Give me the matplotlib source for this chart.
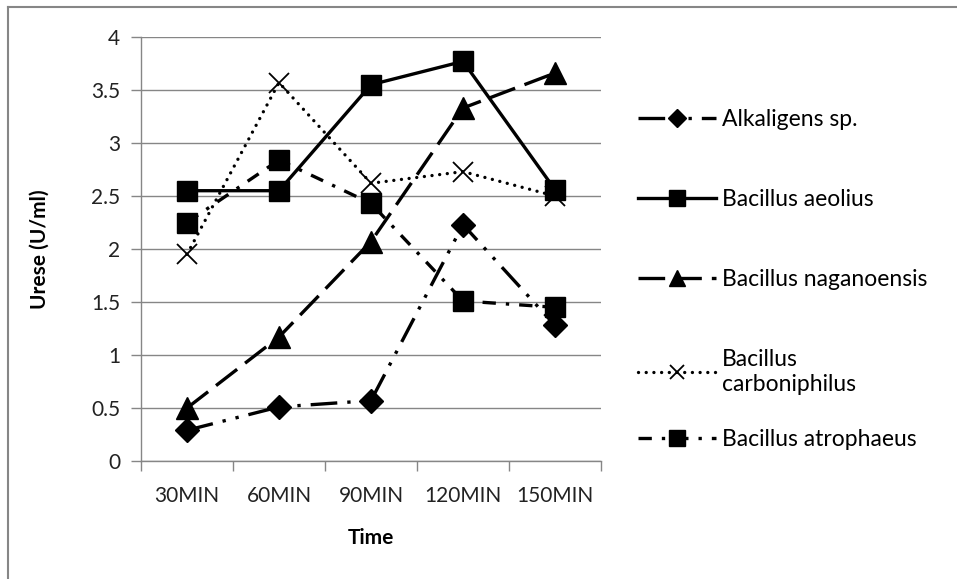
import numpy as np
import matplotlib
matplotlib.use('Agg')
import matplotlib.pyplot as plt
from matplotlib.lines import Line2D

plt.rcParams['font.family'] = ['Lato', 'DejaVu Sans']

times = ['30MIN', '60MIN', '90MIN', '120MIN', '150MIN']
alkaligens = [0.29, 0.51, 0.57, 2.23, 1.28]
aeolius = [2.55, 2.55, 3.55, 3.77, 2.56]
naganoensis = [0.50, 1.17, 2.07, 3.33, 3.66]
carboniphilus = [1.95, 3.57, 2.62, 2.73, 2.50]
atrophaeus = [2.25, 2.84, 2.43, 1.51, 1.45]

W, H = 957, 579
fig = plt.figure(figsize=(W / 100, H / 100), dpi=100)
ax = fig.add_axes([141 / W, 1 - 461 / H, (601 - 141) / W, (461 - 37) / H])

x = np.arange(len(times))
lw = 2.4
grey = '#868686'

l1, = ax.plot(x, alkaligens, color='black', lw=lw, dashes=(8, 3, 1, 3, 1, 3),
              marker='D', ms=12, label='Alkaligens sp.')
l2, = ax.plot(x, aeolius, color='black', lw=lw, marker='s', ms=15,
              label='Bacillus aeolius')
l3, = ax.plot(x, naganoensis, color='black', lw=lw, dashes=(8, 3),
              marker='^', ms=16, label='Bacillus naganoensis')
l4, = ax.plot(x, carboniphilus, color='black', lw=2.4, dashes=(0.01, 2.3),
              dash_capstyle='round', marker='x', ms=14, mew=1.3,
              label='Bacillus\ncarboniphilus')
l5, = ax.plot(x, atrophaeus, color='black', lw=lw, dashes=(4, 3, 1, 3),
              marker='s', ms=15, label='Bacillus atrophaeus')

ax.set_xlim(-0.5, len(times) - 0.5)
ax.set_ylim(0, 4)
ax.set_yticks(np.arange(0, 4.01, 0.5))
ax.set_yticklabels(['0', '0.5', '1', '1.5', '2', '2.5', '3', '3.5', '4'])
ax.set_xticks(x)
ax.set_xticklabels(times)
ax.set_xticks(np.arange(-0.5, len(times), 1), minor=True)
ax.tick_params(axis='x', which='major', length=0, pad=18, labelsize=15, colors='#222222')
ax.tick_params(axis='x', which='minor', length=7, width=1, color=grey)
ax.tick_params(axis='y', length=7, width=1, color=grey, pad=8, labelsize=15, labelcolor='#222222')
ax.grid(axis='y', color=grey, lw=1)
ax.set_axisbelow(True)
for s in ['top', 'right']:
    ax.spines[s].set_visible(False)
for s in ['left', 'bottom']:
    ax.spines[s].set_color(grey)
    ax.spines[s].set_linewidth(1)

ax.set_xlabel('Time', fontsize=15, fontweight='bold', labelpad=16)
ax.set_ylabel('Urese (U/ml)', fontsize=15, fontweight='bold', labelpad=30)

# legend entries placed one by one
leg_y = [120, 200, 280, 372, 440]
for line, yy in zip([l1, l2, l3, l4, l5], leg_y):
    fig.legend([line], [line.get_label()], loc='center left',
               bbox_to_anchor=(638 / W, 1 - yy / H), frameon=False,
               fontsize=16.5, handlelength=3.4, handletextpad=0.25,
               markerscale=0.75, borderpad=0, borderaxespad=0)

# chart border (top and left)
fig.add_artist(Line2D([8 / W, 1], [1 - 7 / H, 1 - 7 / H], color=grey, lw=1.5))
fig.add_artist(Line2D([8 / W, 8 / W], [0, 1 - 7 / H], color=grey, lw=1.5))

fig.savefig('out.png', dpi=100)
